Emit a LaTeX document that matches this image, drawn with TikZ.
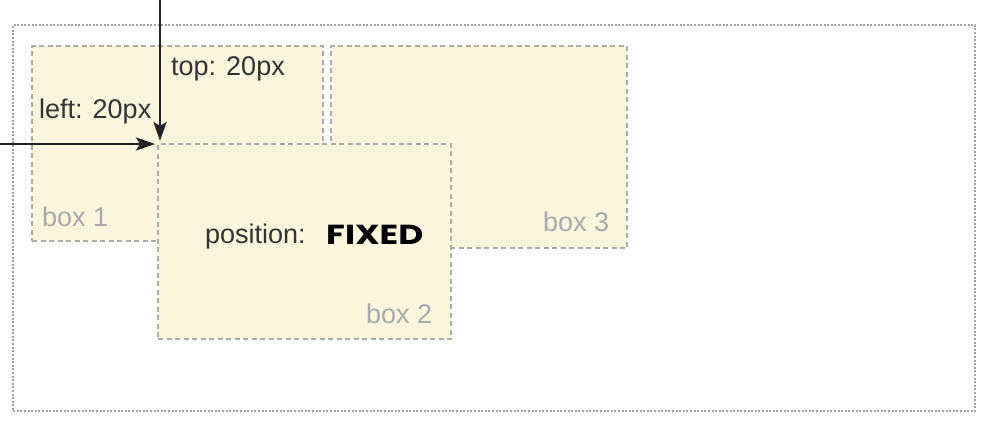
\documentclass[tikz,border=0pt]{standalone}
\usepackage{fontspec}
\setmainfont{Liberation Sans}
\newfontfamily\fixedfont{Poppins}
\usetikzlibrary{arrows.meta,calc}
\definecolor{boxfill}{HTML}{FAF6DE}
\definecolor{boxline}{HTML}{ABABAB}
\definecolor{outerline}{HTML}{A0A0A0}
\definecolor{labeltext}{HTML}{333333}
\definecolor{boxtext}{HTML}{A9A9A9}
\definecolor{arrowcol}{HTML}{222222}
\tikzset{
  boxnode/.style={draw=boxline, fill=boxfill, line width=2.4pt, dash pattern=on 5pt off 3.5pt, anchor=north west, inner sep=0pt},
  outernode/.style={draw=outerline, line width=2.2pt, dash pattern=on 2pt off 1.6pt, anchor=north west, inner sep=0pt},
  lbl/.style={font=\fontsize{27}{30}\selectfont, text=labeltext, anchor=base west, inner sep=0pt},
  boxlbl/.style={font=\fontsize{27}{30}\selectfont, text=boxtext, anchor=base west, inner sep=0pt},
  fixedlbl/.style={font=\fontsize{27.5}{30}\selectfont\fixedfont\bfseries, text=black, anchor=base west, inner sep=0pt},
  arr/.style={draw=arrowcol, line width=2.8pt, -{Stealth[length=19pt,width=13pt,inset=4pt]}}
}
\begin{document}
\begin{tikzpicture}[x=1pt,y=-1pt]
\useasboundingbox (0,0) rectangle (984,420);
\node[outernode, minimum width=962pt, minimum height=386pt] (outer) at (12,24) {};
\node[boxnode, minimum width=291pt, minimum height=195pt] (box1) at (31,45) {};
\node[boxnode, minimum width=296pt, minimum height=202pt] (box3) at (330,45) {};
\node[boxnode, minimum width=293pt, minimum height=195pt] (box2) at (157,143) {};
\node[boxlbl] (l1) at (42,226) {box 1};
\node[boxlbl] (l3) at (543,231) {box 3};
\node[boxlbl] (l2) at (366,323) {box 2};
\node[lbl] (top) at (171,75) {top: 20px};
\node[lbl] (left) at (39,118) {left: 20px};
\node[lbl] (pos) at (205,243) {position:};
\node[fixedlbl] (fixed) at (326,244) {\scalebox{1.25}[1]{FIXED}};
\coordinate (topstart) at (160,0);
\coordinate (leftstart) at (0,144);
\draw[arr, shorten >=2pt] (topstart) -- (topstart |- box2.north west);
\draw[arr, shorten >=2pt] (leftstart) -- (box2.north west |- leftstart);
\end{tikzpicture}
\end{document}
